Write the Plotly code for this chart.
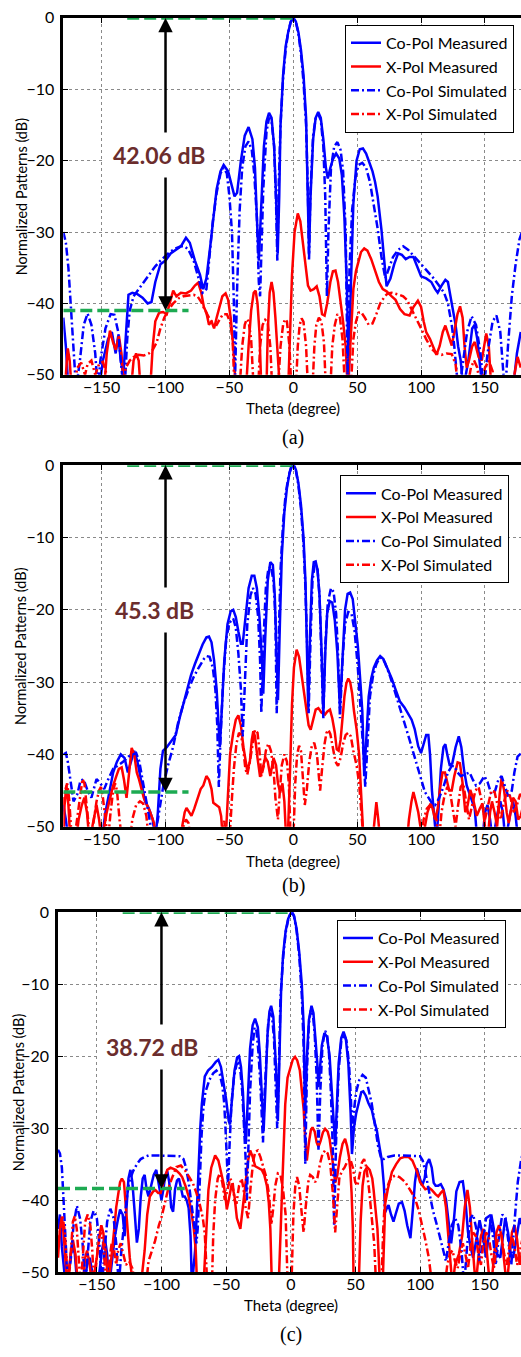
import plotly.graph_objects as go

# ---------------- data ----------------
THETA_TICKS = [-150, -100, -50, 0, 50, 100, 150]
DB_TICKS = [-50, -40, -30, -20, -10, 0]
SERIES_NAMES = ["Co-Pol Measured", "X-Pol Measured", "Co-Pol Simulated", "X-Pol Simulated"]
PANEL_CAPTIONS = ["(a)", "(b)", "(c)"]
PANEL_LABELS = ["42.06 dB", "45.3 dB", "38.72 dB"]
PANEL_LEVELS = [-41.0, -45.2, -38.4]

# Panel (a)
A_CO_MEAS_T = [-180,-178,-176,-152,-149,-145,-142,-139,-137,-135,-133,-131,-129,-126,-122,-118,-114,-111,-108,-104,-100,-96,-92,-88,-84,-81,-77,-73,-70.5,-68,-65,-62.5,-60,-57,-54.5,-51,-48,-46,-44,-41,-38,-35,-32,-30,-28.5,-27,-25.5,-23,-21,-19,-17,-15,-13.5,-12.2,-11,-10,-8,-6,-4,-2,0,2,4,6,8,10,11.2,12.3,13.5,15.5,17.5,19.5,21.5,23.5,25.5,27,29,31,33.5,36,38,40,42,43.5,45,47,49.5,52,54.5,57,60,62,64,66,69,71,73,76,79,82,85,88,91,94,97,100,104,108,111,113,116,119,121,123,125,127,129,131,133,137,140,142,144,146,148,172,175,178]
A_CO_MEAS_DB = [-42,-46,-52,-52,-48,-45,-44,-47,-44.5,-48,-50,-44,-38.8,-38.5,-38.7,-39.2,-40,-39.8,-37,-34.5,-34,-33,-32.5,-32,-30.8,-31.5,-34,-36,-38,-36.5,-32,-28,-24,-21.5,-20.6,-21.5,-23.5,-25,-24.5,-20,-16.5,-15.3,-17,-21,-28,-34,-28,-18,-14.5,-13.3,-14,-18,-25,-33,-25,-15,-8,-4,-2,-0.6,0,-0.5,-2,-4.5,-8,-14,-24,-33,-25,-17,-14,-13.2,-14,-17,-21,-22.5,-21,-19.8,-19,-19.7,-22,-28,-38,-50,-38,-26,-20,-18.4,-18.3,-19,-20.5,-21.5,-23,-25,-29.7,-34,-37.6,-36.5,-34.5,-33,-33.2,-33.8,-33.5,-33.5,-35,-36.2,-36.5,-37,-38,-38.5,-37.5,-36.7,-37,-39,-40.8,-43,-46,-48,-52,-48,-43.5,-43,-45,-49,-52,-52,-47,-44]
A_X_MEAS_T = [-180,-178,-176.5,-175,-173.5,-148,-146,-143.5,-141,-139,-136.5,-134.5,-132.5,-127,-125,-123,-121,-119.5,-112,-110,-108,-105,-102,-99,-96,-94,-91.5,-88,-84,-80,-77,-74.5,-72,-70,-68,-66,-64,-62,-60,-58,-55.5,-53,-51,-49,-47,-45,-37,-35,-33,-31,-29.5,-28,-26.5,-25,-21,-20,-18.5,-17,-15.5,-14,-12,-10.5,-4,-2.5,-1,1,3.5,5.5,7.5,9.5,11.5,13.5,16,18.3,20.5,22.5,24.5,26.5,29,31,33,35,37,39,41,42.5,44,45.5,47,49,51,53,55.5,58,61,64,67,70,73,77,80,83.5,87,91,94,97.5,100,102,104,107,110,112,114.5,117,119,121.5,124,126,128.5,130.5,132.5,134,135.7,137.5,140,142,145,147.5,149.5,151,153,155,170,173,175.5,178]
A_X_MEAS_DB = [-52,-50,-46.3,-48,-52,-52,-47,-43.8,-45.5,-46.5,-44.5,-47,-52,-52,-48,-47,-48,-52,-52,-46,-42.5,-41.3,-41.2,-41.5,-39.5,-38.2,-39,-38.5,-38.6,-38.2,-37.5,-37.1,-38.5,-40.5,-41.3,-43,-42.5,-43.5,-42,-40.5,-39,-38.6,-39.5,-42,-46,-52,-52,-46,-41,-38.5,-38.2,-40,-44,-52,-52,-44,-38.5,-37,-38.5,-42,-47,-52,-52,-45,-36,-30,-27.4,-28.5,-31.5,-35,-37.5,-38.2,-38,-37.6,-39,-41.5,-41.7,-40,-37,-35.5,-35.4,-37,-39.5,-42.6,-46,-52,-48,-42,-38,-35.5,-34,-32.8,-32.3,-32.6,-33.8,-35.4,-37,-38,-38.3,-39,-39.5,-40.8,-41.5,-41.7,-40.5,-39.6,-40.5,-42.5,-44,-45,-46.5,-47.2,-46,-44,-43.1,-44.5,-45.9,-44,-41.5,-40.4,-42,-46,-49,-48,-46,-45.4,-47.5,-48,-46,-44.2,-46,-52,-52,-50,-47.5,-49]
A_CO_SIM_T = [-180,-178,-176,-174,-172,-170,-167,-164,-161,-158,-155,-153,-151,-147,-143,-140,-137,-134,-132,-130,-128,-125,-121,-117,-113,-108,-104,-100,-96,-92,-88,-85,-82,-78,-74,-71,-68,-66,-63,-60,-57,-54.5,-52,-50,-48,-46.5,-45.5,-44,-42,-40,-37.5,-35,-32.5,-30.5,-28.5,-27,-26,-25,-23.5,-21,-19,-17,-15,-13.5,-12.5,-11.5,-10,-8,-6,-4,-2,0,2,4,6,8,10,11.5,12.3,13.3,15.5,17.5,19.5,21.5,23.5,25,26.3,27.5,29.5,32,34.5,37,39,41,42.5,44,46,48.5,51,54,57,60,63,66,69,72,75,78,82,86,90,95,100,105,110,114,118,121,124,126,128,130,133,136,139.5,143,146.5,149,152,156,159,162,164.5,166,168,171,174,177,180]
A_CO_SIM_DB = [-30,-31.5,-35,-40,-46,-52,-48,-43,-41.4,-43,-47,-52,-48,-43.5,-41.5,-41.6,-44,-50,-52,-45,-41,-39,-38,-37,-36,-34.8,-34,-33.3,-32.7,-32.3,-32,-32,-32.5,-34,-36.5,-38.5,-38,-34,-28.5,-24.5,-21.8,-21,-21.8,-25,-30,-40,-50,-38,-27,-21,-18,-17.3,-18.5,-22,-28,-37,-39,-33,-24,-16,-14,-14.5,-18,-26,-34,-24,-15,-8.5,-4.5,-2,-0.5,0,-0.6,-2.2,-5,-9,-15,-25,-34,-25,-16.5,-14,-13.5,-14.3,-18,-25,-39,-30,-21,-18,-17.4,-18.5,-21.5,-30,-50,-35,-27,-22.5,-20.6,-20.3,-21,-23,-26,-29.5,-33.5,-36.5,-35,-33.5,-32.5,-32,-32.5,-33.5,-34.5,-35.5,-36.5,-37.5,-38.5,-40,-43,-46,-50,-52,-48,-44,-41.8,-43,-47,-52,-47,-42.5,-41.7,-44,-50,-52,-46,-39,-34.5,-31,-29.5]
A_X_SIM_T = [-180,-172,-169,-166,-163,-161,-158,-155,-152,-149,-146,-143,-135,-131,-128,-125,-121,-117,-113,-110,-107,-104,-101,-98,-94,-90,-86,-82,-78,-75,-72,-69,-66,-63,-60,-57.5,-55,-52,-49.5,-47.5,-46,-42,-40,-38,-36.5,-35,-33,-31,-27.5,-26,-24,-22,-20,-18,-16.5,-12,-10,-8,-6.5,-5,-3,-1.5,2,3.5,5,6.5,8,10,11.5,15,16.5,18,20,22,24,25.5,29,30.5,32.5,34.5,36.5,38.5,40.5,45,47,49,51,53,56,59,62,65,68,71.6,74,77,80,83,86,89,92.5,96,100,104,108,112,116,120,124,127,129,136,139,141.5,144,146.5,150,153,156,158,180]
A_X_SIM_DB = [-52,-52,-49,-48.3,-50,-48.5,-48,-50,-48.5,-48.2,-50,-52,-52,-49,-48,-47.5,-47.2,-47.3,-47,-46.5,-45.5,-43.5,-42,-41,-40,-39.3,-39,-38.9,-38.8,-39,-39.8,-41,-42,-42.7,-43,-42.2,-41.5,-41.5,-42.6,-45,-52,-52,-46,-43,-42.2,-42.5,-45,-52,-52,-46,-43,-42.3,-42.7,-46,-52,-52,-46,-43,-42.2,-42.5,-46,-52,-52,-46,-43,-42.1,-42.6,-46,-52,-52,-46,-43,-42,-42.5,-45.5,-52,-52,-46,-43,-41.5,-42,-45,-52,-52,-45,-42.6,-41.3,-41.2,-42,-43,-42.8,-41.5,-40,-39,-38.6,-38.5,-38.6,-38.8,-39,-39.5,-40.8,-42,-43.5,-45,-46.3,-47,-47.2,-47,-47.1,-48.5,-52,-52,-49,-48,-49,-52,-49,-48,-49.5,-52,-52]

# Panel (b)
B_CO_MEAS_T = [-180,-178,-176,-150,-147,-144,-141,-138,-135,-132,-129.5,-127,-124.5,-122,-119,-116,-113,-110,-108,-106,-104,-102,-99,-96,-92,-89,-86,-83,-80,-77,-74,-71,-68,-66,-64,-62,-60,-58.5,-57.5,-56,-54,-51.5,-49,-47,-45,-43,-41,-39.6,-37.5,-35,-32.5,-30.5,-28.5,-26.5,-24.5,-23.5,-22,-20,-18,-16,-14.5,-13.2,-12,-10.5,-9,-7,-5,-3,-1,0.5,2,4,6,8,9.5,10.5,11.7,13,14.5,16,17.5,19,20.5,22,23.5,25,26.5,28.5,30.5,32.5,34.5,36.5,38.5,40.5,42.5,44.5,46.5,48.5,50.5,52.5,54,55.5,57,59,61,63,65.5,68,70.5,73,77,80,83.5,87,90,92.6,95,97.8,100,102,104,105.7,107,108.5,110,112,113.5,115.5,117.5,119,120.5,122.5,124.5,127,129.5,131.5,133.5,135.7,138,140,142,144,148,150,152,154,156,160,162,164,166,170,172,174,176]
B_CO_MEAS_DB = [-47,-49,-52,-52,-48,-45,-42.5,-41,-40,-40.5,-42.5,-41,-39.5,-41,-44,-46.5,-47.5,-49,-52,-48,-42,-39.5,-39,-38.3,-37.3,-35,-33,-31,-29,-27.5,-26,-24.8,-23.8,-23.7,-24.5,-27,-31,-36,-39,-34,-27,-22,-20.2,-20,-21,-23,-24.7,-24.7,-21,-17,-15.3,-15.3,-17,-21,-27,-31.6,-24,-16,-13.4,-13.8,-18,-26,-32.5,-22,-12.5,-6.5,-3.2,-1.1,-0.1,0,-0.6,-2.5,-5.5,-10,-16,-24,-33.9,-24,-16,-13.4,-13.3,-14.5,-18,-25,-34.4,-26,-20.5,-18.8,-19,-21.5,-26,-33.6,-26,-20,-17.8,-17.6,-18.5,-21.5,-25,-30,-34,-43,-38,-32,-29.5,-28,-27,-26.4,-26.8,-27.8,-29.5,-31,-32.7,-33.5,-34.5,-35.2,-36.5,-38.9,-39.8,-38.5,-37.3,-37.3,-40,-45,-47.5,-52,-48,-42,-39,-38.6,-40,-41.6,-41.2,-39,-37.5,-39,-42,-44.3,-45.5,-46.5,-47.5,-52,-52,-48,-47,-49,-52,-48,-46.5,-48,-52,-48,-46.5,-48.5,-52]
B_X_MEAS_T = [-180,-179,-177.6,-176,-174.5,-170,-168,-165.5,-163.5,-161.5,-159.5,-156,-154,-152,-150,-146,-143,-141,-138.5,-136.5,-134.3,-132.5,-130.5,-128.5,-126.5,-124.5,-122.5,-121,-118.5,-117,-114.5,-112,-109,-107,-89,-87,-85,-83.6,-81.5,-79.7,-77.5,-75,-72.5,-70.4,-68,-66,-64,-62.6,-60,-58,-56.5,-55,-53,-51,-49.5,-47,-45,-43,-41,-39,-37.5,-36,-34,-32.5,-31.3,-30,-28,-26,-24,-22,-20,-18,-15.5,-13.5,-12,-10.3,-8.5,-7,-5.5,-4,-2.5,-1,0.5,2.6,4.5,6.5,8.5,10.5,12,13.6,15.5,17.5,19.6,22,24.8,26.5,28.7,30.5,32.5,34,35.5,37,38.5,40,41.5,43,44.5,46,47.5,49.6,51.5,53.5,55,62,63.5,65,66.5,68,89,90.5,92.5,94,95.8,97.8,99.5,101,103,105,107.4,109,111,113,115,116.8,118.7,120,122,124,126,128.6,130.4,132.5,134.6,136.5,138.5,140.5,143.6,146,148,150,152,154,155.5,157.5,159.5,161.5,163,165,167,168.6,170.5,172,174,176,178,180]
B_X_MEAS_DB = [-52,-47,-44.3,-47,-52,-52,-49,-47,-46,-48,-52,-49,-47,-49,-52,-48,-45.5,-44.3,-43,-42,-41.8,-43.5,-46,-42,-39.1,-40,-42.5,-43.3,-45,-46,-47,-48,-49.5,-52,-52,-50,-48,-47.4,-48,-48.5,-47.5,-46,-44.8,-44.3,-43,-43.5,-44.8,-46.7,-47,-47.3,-48.5,-52,-52,-44,-40,-37,-35.2,-34.6,-36,-39,-40.8,-42.3,-41,-38,-36.8,-37.5,-40.5,-43.1,-42,-40.4,-41,-43,-40.5,-41.5,-44,-45.3,-44,-46.5,-52,-50,-42,-33,-28,-25.5,-26.5,-29,-31.5,-34,-36,-36.6,-35,-33.8,-33.6,-34.2,-34.5,-34.1,-33.8,-35,-37,-39.3,-39.5,-38,-35,-32,-30.2,-29.5,-30,-31.5,-34,-36.6,-40,-48.9,-52,-52,-49,-46.6,-49,-52,-52,-49,-46.5,-45.2,-46.5,-48,-50,-52,-50,-48,-46.8,-47.5,-49,-47.5,-44.5,-42.5,-42.5,-43.5,-45,-45,-43,-41.1,-41.2,-44,-48,-47,-44.9,-46,-48.5,-47.5,-46.8,-50,-52,-48,-46.5,-48,-50,-45.5,-43.3,-45,-48,-49.5,-47.5,-46,-46.5,-49,-48.5,-47]
B_CO_SIM_T = [-180,-178,-176.5,-174,-172,-169,-166.5,-164,-161,-158,-156,-154,-151,-148,-145,-141,-137,-133,-129,-126,-123,-120.5,-118,-115,-112,-109.5,-106,-104,-101.7,-98,-94,-90,-86,-82,-78,-74,-70,-67.8,-65.5,-63,-61,-59.5,-58.3,-57,-55,-52.5,-50,-47,-45,-43,-41,-39.6,-38,-36,-33.5,-31.6,-29.5,-27.5,-26,-25,-23.5,-21.5,-19.5,-17.5,-15.5,-14,-13,-11.5,-10,-8,-6,-4,-2,0,2,4,6,8,9.5,11,12,13.5,15,17,19,20.5,22,23.5,25,27,29.5,31.5,33.5,35,36.5,38.5,40.5,43,45.5,48,50.5,53,55,56.3,58,60,62.5,65,67.5,69.5,71.6,75,80,84,87.6,91,95,99,103,108,111,114,117.5,121,124,126,128.5,131,134.5,138,140.5,143,146,149.6,152,155,158,160.5,163,166,168.6,171,173,175.5,178.6,180]
B_CO_SIM_DB = [-40,-39.8,-41,-44.5,-46.5,-45.5,-43.6,-43.5,-45,-46,-44.5,-43.4,-44,-44.8,-43.5,-42,-41.5,-41,-40.3,-40,-39.8,-41,-43.5,-46.5,-49,-52,-49,-46.5,-44.3,-41.5,-38.9,-35.5,-33,-31,-29.3,-28,-26.8,-26.4,-26.5,-28,-31,-36,-44.5,-38,-30,-24,-21.8,-21.2,-22.5,-26,-31,-37.5,-30,-22,-18,-17,-17.8,-21,-27,-34.3,-25,-17,-14.3,-14,-16,-21,-34.3,-22,-14.5,-8,-4,-1.8,-0.4,0,-0.7,-2.8,-6,-11,-17,-26,-34.3,-24,-16,-13.5,-14.5,-18,-26,-35,-25,-19,-17,-17.5,-20.5,-26,-35,-27,-22,-20.3,-20.5,-23,-28,-34,-40,-44.5,-38,-32,-29,-27.5,-26.7,-26.6,-27.3,-28.8,-31.6,-33.8,-36,-38,-40.4,-43,-45.2,-46.6,-47,-46.1,-44.5,-42.5,-41.6,-41.6,-42.5,-43,-42.8,-42.5,-43.5,-44.3,-44,-43,-43.8,-45.5,-45,-43.5,-43,-44.5,-46,-45,-42.5,-40.3,-39.8,-40]
B_X_SIM_T = [-180,-178.5,-177,-175.5,-174,-172.5,-170,-168,-166.5,-165,-163.5,-162,-160,-158.5,-156,-154,-152,-150.5,-149,-147,-145,-143,-141,-139.5,-138,-136,-134,-128,-126,-123,-120,-117.5,-115,-113,-88,-86,-84,-82,-80,-56,-54,-53,-50,-48,-46.5,-44.5,-42.5,-40.8,-39,-37.5,-36,-34,-32,-30,-28,-26.5,-25,-23,-21.5,-19.5,-17.5,-15.5,-14,-12,-10.5,-9,-7,-5,-3.5,-2,0,1.5,3,4.5,6,7.5,9,10.5,12.5,14.5,16.4,18.5,20,21,22.5,24.5,26,27.4,29,31,33,35,37,39,41,43,45,47,49.6,51.5,53.5,55,100,102,104.5,107,109.5,112,114,116,118,120.5,122.5,125,127,129,131,133,135,137.5,140,142.5,145,147.5,150,152.5,155,157.5,160,162.5,165,167.5,170,172.5,175,177.5,180]
B_X_SIM_DB = [-47,-45,-44,-46,-50,-52,-50,-47.5,-46,-43.4,-44,-47,-50,-52,-49,-46.5,-45,-44.5,-46,-49,-52,-48,-45,-44,-45,-49,-52,-52,-49,-47,-46.5,-46.8,-48.5,-52,-52,-50,-49,-49.5,-52,-52,-49,-52,-52,-46,-42,-38.5,-37,-37.4,-39.5,-42,-42.8,-41,-38.5,-36.6,-37,-39.5,-43,-41.5,-39.5,-38.5,-39.5,-42,-46,-49,-45,-41.5,-40,-41,-44,-52,-52,-44,-40,-38.8,-39.5,-43,-47,-45,-41,-38.8,-38.4,-40,-43,-45,-42,-38.5,-37,-36.6,-37.2,-39,-41,-41.6,-40.5,-38.5,-37.3,-37,-37.5,-39.5,-41.6,-44,-48,-52,-52,-49,-47.5,-47,-47.5,-49,-52,-48,-46,-44.5,-45,-48,-50,-47,-44.5,-44,-46,-49,-47,-45,-44.5,-46.5,-49,-47,-45,-45.2,-47,-49,-46.5,-45,-46,-48,-47,-45.5,-46]

# Panel (c)
C_CO_MEAS_T = [-180,-178.5,-177,-175.5,-174,-171,-169,-167,-165,-160,-157.5,-155.5,-153.5,-151.5,-148,-146,-144,-142,-140.5,-138,-136,-134,-132,-130,-128.5,-127,-125.5,-124,-122.5,-121,-119,-117.5,-116,-114.5,-113,-111.5,-110,-108,-106,-104,-102,-100,-98.5,-97,-95.5,-94,-92.5,-91,-89.5,-88,-86.5,-85,-83.5,-82,-80.5,-79,-77.5,-76.5,-74,-73,-71.4,-70,-68.8,-66.5,-64,-61,-58,-56,-54,-52,-50,-48,-47,-45.5,-43.5,-41.5,-40,-38.5,-37,-35.8,-34.8,-33.5,-31.5,-29.5,-27.6,-25.5,-24,-22.5,-21,-19.5,-18,-16.5,-15.2,-13.5,-12,-11,-10,-9,-7.5,-6,-4,-2,0,1,2.5,4.5,6.5,8.5,10,11,12.5,14,16,17.5,19,20.5,21.4,22.5,24,26,28,30,32,33.5,34.3,35.5,37,39,40.8,42.5,44.5,46.3,47.3,48.8,50.5,52.5,54.5,56,58,60,62.7,64.5,66.5,68.5,70.4,72,73,74.5,75.6,77.5,79.4,81,83.5,86,88,90,92.5,94.5,96,97.5,99,101.5,103.5,105,107,109,110.5,112,114,116,118,120,122,124,126,128,130.5,133,135,137,139,141,143,146,148.5,151,153,155,157,159.5,162,164,165.8,168,170,172,174.5,177,180]
C_CO_MEAS_DB = [-44,-42,-46.5,-50,-52,-49,-46,-47.5,-52,-52,-49,-48,-50,-52,-50,-47,-45,-47.5,-52,-48,-45,-43,-41.3,-42,-45,-41,-37,-35.8,-37.5,-41,-45.9,-44,-39.5,-37,-36.5,-38.5,-39.5,-38,-36.5,-35.8,-38,-40,-38.5,-36.5,-36,-37.5,-41,-41.6,-38.5,-37.3,-37,-38.5,-39.5,-39.5,-40,-41.1,-45,-52,-47,-43,-35,-30,-26.7,-22.8,-22,-21.5,-20.8,-20.5,-21.5,-23.5,-26,-29,-29.5,-26,-22,-20.2,-20,-21.5,-25,-30,-32.2,-27,-19,-15.7,-14.8,-16,-19.5,-25,-30.4,-24,-17,-13.8,-13,-14.5,-19,-23,-29,-23,-11,-6,-2.6,-0.9,-0.1,0,-0.5,-2.3,-5.5,-10,-16,-28.5,-20,-15,-13,-14,-17,-21,-24.3,-22,-18.5,-16.8,-17.3,-20,-25,-30,-32.5,-28,-21,-17.5,-16.6,-17.5,-21,-28,-33.6,-30,-28,-26.5,-25,-24.9,-25.5,-26.5,-27.5,-29,-30.3,-32.5,-34.5,-38,-41.7,-41,-40.7,-42,-43,-42,-40.5,-40.3,-41.5,-43.5,-45.3,-41,-37.5,-35.6,-36.5,-38,-37,-35,-34.3,-35.5,-37.6,-38,-38,-37.8,-38.5,-39.9,-43,-46,-43,-38.8,-37.5,-37.4,-40,-44.4,-46.5,-48,-46,-42.8,-45,-48,-45,-42,-44,-47.5,-48,-45,-42.5,-44.5,-47.5,-48,-45,-42.5,-44]
C_X_MEAS_T = [-180,-178.5,-177,-175.5,-174,-172.5,-170.5,-168.5,-166.5,-164.5,-161,-159,-157.5,-155.5,-153.5,-150,-148,-146.5,-145,-143,-141,-138.5,-136.5,-135,-133.5,-132,-130.6,-129,-127.5,-126,-124.5,-122,-116,-113,-111,-109,-106.5,-104.7,-102.5,-100.6,-98.5,-95.5,-93,-91.7,-89,-86,-84,-81.5,-79,-77,-75,-73.5,-72.4,-67.5,-66,-63.7,-61.5,-58.5,-56,-54,-52,-50.5,-49.5,-48,-45.6,-43.5,-41.7,-39,-37,-35.2,-33,-31.4,-29.5,-27.5,-25,-22.4,-20.5,-18.5,-17,-15.8,-14.6,-9.4,-7,-5.5,-4.3,-2.5,-0.4,1.5,3.3,5,7,8.5,10,11,12.4,14,15.5,16.8,18.5,20,21.4,23,24.8,26.5,28.5,30,31.7,33,34.3,36,38,40,42,43.5,45,46,47,48,48.6,52.5,54,55.5,57,59,61,63,64,65.5,67,68,69,71,72,73,75,78.2,81.5,84.6,88,91,94,97.5,100,104,107,109,112,114,116,118,120,122,123.5,125,127,130,132.5,134.5,136.6,138.5,140,141.5,143,145,147,149,151,153,155,157,159,161,163,165,167,169,171,173,175,177,179,180]
C_X_MEAS_DB = [-48,-44,-42.3,-45,-49,-52,-48,-45.5,-47.5,-52,-52,-48,-47,-49,-52,-48,-45,-43.5,-44.5,-47.5,-52,-48,-44,-41,-39,-37.5,-37,-37.5,-41,-45,-48,-52,-52,-47,-42,-39.5,-38.8,-38.6,-39,-39,-37.5,-35.8,-35.5,-35.6,-35.8,-36.3,-36.8,-38,-39.5,-41.5,-44,-47,-52,-52,-46,-38.6,-35.5,-33.8,-34.5,-36,-37.7,-39.5,-41.3,-40,-37.7,-39.5,-42.5,-44,-41,-38,-34.5,-33.1,-34,-35.3,-35.5,-35.8,-36.5,-38,-40.4,-44,-52,-52,-40,-32,-26.7,-23,-21.5,-20.5,-20.1,-20.6,-22,-24.4,-27.5,-31,-34.5,-32,-30.3,-29.9,-30.5,-32,-32.6,-31.8,-30.6,-30.1,-30.5,-31.5,-33.5,-35.5,-37.6,-36.5,-34,-32.2,-31.5,-32.5,-34,-35.8,-39,-44,-52,-52,-43,-38,-36,-35.4,-35.8,-37,-38.5,-41,-44,-48,-52,-52,-45,-40.5,-38.5,-36.1,-35,-34.2,-34,-34,-34.5,-36,-37.5,-38.5,-38.3,-38.6,-39.2,-39.5,-39,-38.6,-41,-45,-48,-52,-49,-47.5,-45,-41,-38.6,-41,-45,-49,-52,-48,-45,-44,-46,-50,-52,-48,-44.5,-43.5,-45,-48.5,-52,-48,-44.5,-43.5,-45.5,-49,-47,-45]
C_CO_SIM_T = [-180,-178.5,-177,-175.5,-174,-172.5,-170,-168,-165.4,-163,-161,-159,-157,-155,-152.5,-150,-148,-146,-144,-142,-139.5,-137,-135,-133,-131,-129,-127,-125,-122,-119,-116,-113,-110,-105,-100,-95,-90,-86,-83,-81,-79,-77,-75,-73,-72,-70.5,-69,-67.5,-66,-63,-60,-57.5,-55,-53,-51.5,-50.5,-49.5,-48.5,-47.5,-46,-44,-42,-40.5,-39,-37.5,-36,-35,-34,-32.8,-31.5,-29.5,-28,-26.5,-25,-23.5,-22.5,-21.5,-20.5,-19,-17.5,-16,-14.5,-13,-11.5,-10.5,-9.5,-8,-6,-4,-2,0,1,2.5,4.5,6.5,8.5,10,11.2,12.5,14,15.5,17,18.5,20,21.4,22.8,24.5,26.5,28,29.5,31,32.5,33.5,35,37,39,41,43,45,46.5,47.5,48.5,50.5,53,55.5,58,60,62.5,65,67.5,70,72,75,80,85,90,95,100,102,104,106,108,110,113,116,118,120,122,124.5,127,129.5,132,134,136.5,139,141,143.5,146,148.5,151,153.5,156,158.5,161,163.5,166,168,170.5,173,175.5,178,180]
C_CO_SIM_DB = [-33,-33.5,-35.5,-40,-46,-52,-48,-43.5,-40.8,-42.5,-46,-52,-48,-43,-41.5,-42.5,-46,-52,-47,-43,-41.2,-42.5,-46,-52,-47,-43,-40,-37.5,-36,-35,-34.3,-34,-33.8,-33.8,-33.8,-33.8,-33.8,-33.9,-34.3,-35.5,-37.5,-40,-43,-46,-44,-38,-31,-27,-25,-23.3,-22.4,-22,-22.5,-24,-26.5,-30,-35,-38,-33,-27,-23,-21.2,-21,-22,-25,-29.5,-34,-40,-34,-25,-18.5,-16,-16.5,-19.5,-24,-28,-32,-26,-20,-15.5,-14,-14.5,-17.5,-24,-30,-24,-12,-6.5,-2.9,-1,-0.1,0,-0.6,-2.6,-6,-11.5,-19,-35,-22,-15.5,-13.6,-14,-17,-23,-33,-25,-18.5,-16.5,-17,-19.5,-25,-33,-43.6,-32,-22,-18,-17,-17.8,-21,-26,-31,-28,-25,-23.3,-22.6,-23,-24.5,-26.5,-29.5,-32.5,-34.3,-34.3,-34,-33.8,-33.8,-33.8,-33.8,-33.9,-34.5,-36,-38,-40,-41.5,-43.5,-45.5,-47,-48.5,-46,-43.5,-42.5,-43.5,-47,-52,-46,-42.5,-42,-44,-48.5,-46,-42.5,-42.2,-44.5,-49,-45,-42,-42.5,-45.5,-49,-43,-37.5,-34.5,-33]
C_X_SIM_T = [-180,-178,-176.5,-175,-173.5,-172,-170,-168.5,-167,-165.5,-164,-162.5,-160.5,-159,-157,-155,-153.5,-152,-150,-148,-146.5,-145,-143.5,-142,-140,-138.5,-137,-135,-133.5,-131.5,-129.5,-127.5,-125,-122.5,-120,-112,-110,-107.5,-105,-102,-100,-97.5,-95,-92,-88.4,-85,-82,-78.5,-75.6,-73,-70.4,-68,-66.5,-64.5,-61,-60,-58.5,-56.5,-55,-53,-51,-49.5,-47,-45,-43.5,-42,-40,-38,-36.5,-35,-33,-31,-29,-27.5,-25.5,-23.5,-21,-19,-17,-15,-13.5,-12,-10,-8,-6,-4,-2.4,0.5,2,3.5,4.8,6.5,8,9.9,11.5,13.5,15,17,18.8,20.5,22.5,24.5,26.5,28.5,30.5,32.5,34.3,36,37.5,39.4,41.5,44,46,48,49.8,51.5,53,55,56.7,58.5,60.5,62.5,64.5,66,70,71.5,73,76,78,80.8,84,88.5,92,96,99,101.6,104,106.7,109.4,119,121,123,125,127,129,131,133,135,137,139,141,143,145,147,149,151,153,155,157,159,161,163,165,167,169,171,173,175,177,179,180]
C_X_SIM_DB = [-46,-43.5,-42.3,-44,-48,-52,-47,-43,-42.2,-44,-48,-52,-47,-43,-42,-43.5,-47,-52,-48,-45,-44.5,-46,-50,-52,-48,-46,-46.5,-49,-47,-46,-47.5,-49,-48.5,-49.5,-52,-52,-48.5,-47,-45.7,-43.5,-42.4,-40.5,-38.6,-37,-35.4,-35.2,-35.8,-36.8,-37.7,-39,-40.6,-42.5,-44.7,-52,-52,-45,-40,-37,-36.3,-37.5,-40,-39,-37,-37.5,-40,-40.5,-38,-37,-38.5,-41,-42.5,-38,-34.5,-33.3,-33.1,-34,-35.5,-36.8,-39,-43.4,-41,-38,-36.3,-36.5,-38.5,-42,-52,-52,-42,-38,-36.8,-38,-41,-44.5,-41,-37.5,-36.5,-36.8,-37.5,-37,-35,-33.6,-33.1,-33.5,-35,-39,-44.5,-40,-37,-36,-35.5,-34.5,-34.3,-35.5,-37.5,-38,-36.5,-34.8,-34.3,-35.5,-38.5,-42,-46,-52,-52,-44,-39.1,-37.5,-36.8,-36.6,-36.8,-37.5,-38.5,-39.7,-41.5,-43.4,-45.5,-48,-52,-52,-49,-47.5,-47,-48.5,-49.5,-47.5,-46,-47.5,-49.5,-46.5,-44.5,-45,-47.5,-49,-46,-44.5,-45,-47.5,-49.5,-46.5,-44.5,-45,-47.5,-49,-46.5,-45,-46.5,-49,-47,-45.5,-46]

PANELS_DATA = [
    [(A_CO_MEAS_T, A_CO_MEAS_DB), (A_X_MEAS_T, A_X_MEAS_DB), (A_CO_SIM_T, A_CO_SIM_DB), (A_X_SIM_T, A_X_SIM_DB)],
    [(B_CO_MEAS_T, B_CO_MEAS_DB), (B_X_MEAS_T, B_X_MEAS_DB), (B_CO_SIM_T, B_CO_SIM_DB), (B_X_SIM_T, B_X_SIM_DB)],
    [(C_CO_MEAS_T, C_CO_MEAS_DB), (C_X_MEAS_T, C_X_MEAS_DB), (C_CO_SIM_T, C_CO_SIM_DB), (C_X_SIM_T, C_X_SIM_DB)],
]
for p in PANELS_DATA:
    for t, v in p:
        assert len(t) == len(v), (len(t), len(v))

# ---------------- style / layout ----------------
W, H = 521, 1357
FONT = "Lato"
COLORS = ["#0000FF", "#FF0000", "#0000FF", "#FF0000"]
DASHES = ["solid", "solid", "8px,3px,2px,3px", "8px,3px,2px,3px"]
GREEN = "#1DAA52"
LABEL_COLOR = "#6B2D2D"


def py2paper(py):
    return 1 - py / H


GEOM = [
    dict(left=63.3, top=8, bottom=370, xmax=178.2),
    dict(left=63.3, top=461.7, bottom=828.3, xmax=178.2),
    dict(left=58.0, top=915, bottom=1280, xmax=178.0),
]
LEG_POS = [(345, 15), (340, 472), (337, 923)]
LABEL_POS = [(-105, -19.2), (-109, -20.0), (-107, -18.7)]
CAPTION_Y = [434, 888, 1343]
XTITLE_Y = [404, 863, 1313]

fig = go.Figure()
layout = dict(
    width=W, height=H, margin=dict(l=0, r=0, t=0, b=0),
    paper_bgcolor="white", plot_bgcolor="white",
    font=dict(family=FONT, color="black", size=16),
    showlegend=True,
)
annotations = []
shapes = []

for i, pdata in enumerate(PANELS_DATA):
    g = GEOM[i]
    sfx = "" if i == 0 else str(i + 1)
    xa, ya = "x" + sfx, "y" + sfx
    leg = "legend" + sfx
    for k, (t, v) in enumerate(pdata):
        fig.add_trace(go.Scatter(
            x=t, y=v, mode="lines", name=SERIES_NAMES[k],
            line=dict(color=COLORS[k], width=2.5, dash=DASHES[k]),
            xaxis=xa, yaxis=ya, legend=leg, showlegend=True,
        ))
    layout["xaxis" + sfx] = dict(
        domain=[g["left"] / W, 1.0], range=[-180, g["xmax"]], anchor=ya,
        tickvals=THETA_TICKS, ticks="inside", ticklen=5, tickcolor="black",
        showline=True, linecolor="black", linewidth=2.5, mirror="ticks",
        showgrid=True, gridcolor="#8a8a8a", griddash="dot", gridwidth=1,
        zeroline=False, tickfont=dict(family=FONT, size=16, color="black"),
        ticklabelstandoff=-4,
    )
    layout["yaxis" + sfx] = dict(
        domain=[py2paper(g["bottom"]), py2paper(g["top"])], range=[-50, 0], anchor=xa,
        tickvals=DB_TICKS, ticks="inside", ticklen=5, tickcolor="black",
        showline=True, linecolor="black", linewidth=2.5, mirror=False,
        showgrid=True, gridcolor="#8a8a8a", griddash="dot", gridwidth=1,
        zeroline=False, tickfont=dict(family=FONT, size=16, color="black"),
        ticklabelstandoff=3,
    )
    lx, ly = LEG_POS[i]
    layout[leg] = dict(
        x=lx / W, y=py2paper(ly), xanchor="left", yanchor="top",
        bgcolor="white", bordercolor="black", borderwidth=1,
        font=dict(family=FONT, size=16, color="black"), traceorder="normal",
    )
    level = PANEL_LEVELS[i]
    shapes.append(dict(type="line", xref=xa, yref=ya, x0=-130, x1=0, y0=0, y1=0,
                       line=dict(color=GREEN, width=3.5, dash="12px,5px"), layer="above"))
    shapes.append(dict(type="line", xref=xa, yref=ya, x0=-180, x1=-82, y0=level, y1=level,
                       line=dict(color=GREEN, width=3.5, dash="12px,5px"), layer="above"))
    labx, laby = LABEL_POS[i]
    for tip in (0, level):
        annotations.append(dict(
            x=-100, y=tip, xref=xa, yref=ya, ax=-100, ay=laby, axref=xa, ayref=ya,
            text="", showarrow=True, arrowhead=2, arrowsize=1.15, arrowwidth=2.5,
            arrowcolor="black", standoff=0,
        ))
    annotations.append(dict(
        x=labx, y=laby, xref=xa, yref=ya, text="<b>" + PANEL_LABELS[i] + "</b>",
        showarrow=False, font=dict(family=FONT, size=23, color=LABEL_COLOR),
        bgcolor="white", borderpad=8,
    ))
    cx = (g["left"] + 180 * (W - g["left"]) / (180 + g["xmax"])) / W
    annotations.append(dict(
        x=cx, y=py2paper(XTITLE_Y[i]), xref="paper", yref="paper", text="Theta (degree)",
        showarrow=False, font=dict(family=FONT, size=15, color="black"),
        xanchor="center", yanchor="middle",
    ))
    annotations.append(dict(
        x=(21 if i < 2 else 18) / W, y=py2paper((g["top"] + g["bottom"]) / 2), xref="paper", yref="paper",
        text="Normalized Patterns (dB)", textangle=-90,
        showarrow=False, font=dict(family=FONT, size=14.5, color="black"),
        xanchor="center", yanchor="middle",
    ))
    annotations.append(dict(
        x=cx, y=py2paper(CAPTION_Y[i]), xref="paper", yref="paper", text=PANEL_CAPTIONS[i],
        showarrow=False, font=dict(family="Liberation Serif", size=20, color="black"),
        xanchor="center", yanchor="middle",
    ))

layout["annotations"] = annotations
layout["shapes"] = shapes
fig.update_layout(**layout)
fig.write_html(
    "out.html",
    config={"displayModeBar": False},
    post_script="document.body.style.margin='0px';document.body.style.padding='0px';",
)
